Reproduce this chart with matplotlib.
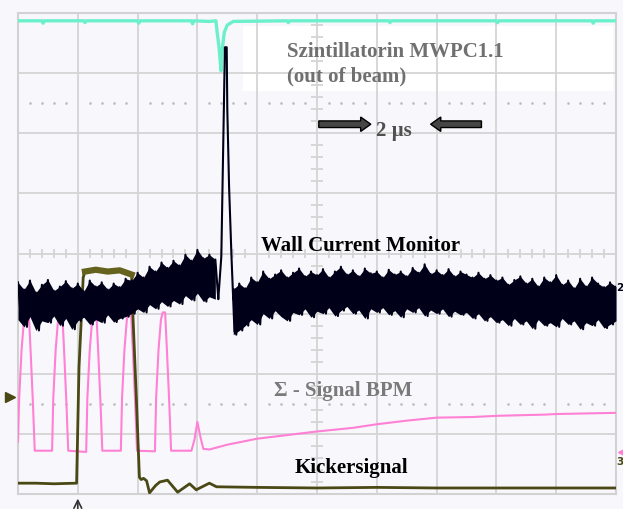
import numpy as np
import matplotlib.pyplot as plt
from matplotlib.patches import FancyArrow, Rectangle

# scope screen: 10 x 8 divisions, values in divisions
# channel 1: scintillator (cyan)
scint_x = [0.0, 0.4, 0.42, 0.44, 1.1, 1.12, 1.14, 2.0, 2.02, 2.04, 2.9, 2.92, 2.94, 3.2,
           3.31, 3.33, 3.36, 3.395, 3.41, 3.45, 3.50, 3.60, 4.5, 4.52, 4.54, 6.2, 6.22,
           6.24, 8.0, 8.02, 8.04, 9.6, 9.62, 9.64, 10.0]
scint_y = [3.87, 3.87, 3.83, 3.87, 3.87, 3.84, 3.87, 3.87, 3.83, 3.87, 3.87, 3.82, 3.87, 3.86,
           3.87, 3.68, 3.45, 3.04, 3.35, 3.68, 3.80, 3.86, 3.87, 3.84, 3.87, 3.87, 3.84,
           3.87, 3.87, 3.84, 3.87, 3.87, 3.83, 3.87, 3.87]

# channel 2: wall current monitor (noisy band: upper / lower excursions)
wcm_a_hi = [-0.48, -0.60, -0.45, -0.65, -0.52, -0.44, -0.62, -0.55, -0.46, -0.58,
            -0.50, -0.63, -0.45, -0.55, -0.48, -0.60, -0.50, -0.56, -0.42, -0.45,
            -0.32, -0.40, -0.22, -0.30, -0.15, -0.24, -0.12, -0.20, -0.02, -0.12,
            0.06, -0.08, -0.02, -0.10]
wcm_a_lo = [-1.10, -1.22, -1.05, -1.28, -1.12, -1.15, -1.04, -1.20, -1.08, -1.26,
            -1.12, -1.06, -1.18, -1.10, -1.15, -1.02, -1.14, -1.08, -1.05, -1.00,
            -0.92, -0.98, -0.85, -0.92, -0.80, -0.88, -0.78, -0.84, -0.70, -0.78,
            -0.66, -0.80, -0.72, -0.76]
spike_x = [3.35, 3.40, 3.46, 3.49, 3.50, 3.53, 3.57, 3.62, 3.65]
spike_y = [-0.75, -0.05, 3.43, 3.43, 2.40, 1.10, -0.05, -1.30, -0.60]
wcm_c_hi = [-0.60, -0.50, -0.58, -0.40, -0.48, -0.30, -0.42, -0.35, -0.28, -0.40,
            -0.32, -0.25, -0.38, -0.30, -0.36, -0.26, -0.40, -0.30, -0.22, -0.35,
            -0.28, -0.38, -0.25, -0.33, -0.30, -0.40, -0.27, -0.35, -0.30, -0.38,
            -0.24, -0.32, -0.18, -0.34, -0.28, -0.36, -0.26, -0.38, -0.30, -0.35,
            -0.40, -0.32, -0.42, -0.36, -0.45, -0.40, -0.52, -0.44, -0.38, -0.50,
            -0.42, -0.55, -0.40, -0.48, -0.36, -0.52, -0.45, -0.58, -0.42, -0.55,
            -0.40, -0.50, -0.56, -0.48, -0.55]
wcm_c_lo = [-1.35, -1.28, -1.20, -1.10, -1.18, -1.00, -1.08, -0.95, -1.05, -1.12,
            -0.98, -1.02, -0.92, -1.06, -0.96, -1.00, -0.90, -1.04, -0.95, -0.88,
            -1.00, -0.94, -1.08, -0.92, -0.98, -0.90, -1.02, -0.95, -1.06, -0.92,
            -0.98, -0.90, -1.04, -0.94, -1.00, -0.92, -1.05, -0.96, -1.02, -0.98,
            -1.08, -1.00, -1.12, -1.05, -1.15, -1.10, -1.20, -1.08, -1.18, -1.12,
            -1.25, -1.10, -1.20, -1.15, -1.22, -1.08, -1.18, -1.12, -1.26, -1.15,
            -1.20, -1.10, -1.24, -1.18, -1.12]

# channel 3: sigma signal BPM (pink)
bpm_x = [0.0, 0.02, 0.06, 0.10, 0.13, 0.18, 0.21, 0.25, 0.28, 0.57,
         0.59, 0.63, 0.67, 0.70, 0.74, 0.77, 0.81, 0.84, 1.14,
         1.16, 1.20, 1.24, 1.27, 1.31, 1.34, 1.38, 1.41, 1.72,
         1.74, 1.78, 1.82, 1.85, 1.89, 1.92, 1.96, 1.99, 2.29,
         2.31, 2.35, 2.39, 2.42, 2.46, 2.49, 2.53, 2.56, 2.90,
         2.95, 3.00, 3.05, 3.10, 3.20, 3.50, 4.0, 4.5, 5.0, 5.6, 6.0,
         6.5, 7.0, 7.6, 8.0, 8.8, 9.0, 10.0]
bpm_y = [-3.13, -2.40, -1.60, -1.10, -0.98, -0.98, -1.60, -2.50, -3.28, -3.28,
         -2.40, -1.60, -1.10, -0.98, -0.98, -1.60, -2.50, -3.28, -3.30,
         -2.40, -1.60, -1.10, -0.98, -0.98, -1.60, -2.50, -3.28, -3.28,
         -2.40, -1.60, -1.10, -0.98, -0.98, -1.60, -2.50, -3.28, -3.29,
         -2.40, -1.60, -1.10, -0.98, -0.98, -1.60, -2.50, -3.28, -3.28,
         -3.10, -2.80, -3.05, -3.25, -3.26, -3.18, -3.08, -3.02, -2.96, -2.90, -2.84,
         -2.78, -2.73, -2.72, -2.70, -2.68, -2.67, -2.65]

# channel 4: kicker signal (olive)
kick_x = [0.0, 0.3, 0.6, 0.98, 1.02, 1.06, 1.09, 1.12, 1.3, 1.5, 1.7, 1.9,
          1.92, 1.98, 2.03, 2.06, 2.10, 2.15, 2.20, 2.30, 2.37, 2.50, 2.67,
          2.87, 2.98, 3.20, 3.32, 4.0, 5.0, 6.0, 7.0, 8.0, 9.0, 10.0]
kick_y = [-3.82, -3.82, -3.83, -3.82, -1.90, -1.05, -0.40, -0.30, -0.27, -0.30, -0.28, -0.35,
          -0.98, -2.43, -3.72, -3.76, -3.74, -3.78, -3.98, -3.86, -3.80, -3.77, -3.97,
          -3.83, -3.93, -3.82, -3.88, -3.89, -3.90, -3.89, -3.90, -3.90, -3.90, -3.90]

bg = '#f8f8fc'
fig = plt.figure(figsize=(6.23, 5.10), dpi=100, facecolor=bg)
ax = fig.add_axes([18 / 623, 15 / 510, 598 / 623, 481 / 510])
ax.set_facecolor(bg)
ax.set_xlim(0, 10)
ax.set_ylim(-4, 4)
ax.set_xticks([])
ax.set_yticks([])
for s in ax.spines.values():
    s.set_color('#d2d2d2')
    s.set_linewidth(1.5)

# whiter area behind the labels
ax.add_patch(Rectangle((3.77, 2.7), 6.18, 1.08, fc='white', ec='none', zorder=0))

# graticule
gc = '#d4d4d4'
for gx in range(1, 10):
    ax.axvline(gx, color=gc, lw=1.3, zorder=1)
for gy in range(-3, 4):
    ax.axhline(gy, color=gc, lw=1.3, zorder=1)
minor = np.array([v for v in np.arange(0, 10.01, 0.2) if abs(v - round(v)) > 0.01])
ax.vlines(minor, -0.08, 0.08, color=gc, lw=1.3, zorder=1)
minor_y = np.array([v for v in np.arange(-4, 4.01, 0.2) if abs(v - round(v)) > 0.01])
ax.hlines(minor_y, 4.9, 5.1, color=gc, lw=1.3, zorder=1)
for dy in (2.5, -2.5):
    ax.plot(minor, np.full(len(minor), dy), ls='none', marker='.', ms=1.8,
            color='#bdbdbd', zorder=1)

# traces
ax.plot(scint_x, scint_y, color='#6cf0cc', lw=2.4, zorder=3)
ax.plot(bpm_x, bpm_y, color='#ff80d4', lw=1.5, zorder=3)
ax.plot(kick_x, kick_y, color='#4a4814', lw=2.0, zorder=4)
ax.plot(kick_x[7:12], kick_y[7:12], color='#64621c', lw=4.5, zorder=4)

wcm_col = '#000018'
xa = [0.1 * i for i in range(len(wcm_a_hi))]
xc = [3.6 + 0.1 * i for i in range(len(wcm_c_hi))]
ax.fill_between(xa, wcm_a_hi, wcm_a_lo, color=wcm_col, lw=0, zorder=5)
ax.fill_between(xc, wcm_c_hi, wcm_c_lo, color=wcm_col, lw=0, zorder=5)
wx, wy = [], []
for x, h, l in zip(xa, wcm_a_hi, wcm_a_lo):
    wx += [x, x + 0.05]
    wy += [h, l]
wx += spike_x
wy += spike_y
for x, h, l in zip(xc, wcm_c_hi, wcm_c_lo):
    wx += [x, x + 0.05]
    wy += [h, l]
ax.plot(wx, wy, color=wcm_col, lw=1.5, zorder=5)

# labels
font = dict(family='Liberation Serif', fontweight='bold', fontsize=15, zorder=6)
ax.text(4.5, 3.283, 'Szintillatorin MWPC1.1', color='#707070', va='baseline', **font)
ax.text(4.5, 2.88, '(out of beam)', color='#707070', va='baseline', **font)
ax.text(5.98, 1.97, '2 µs', color='#505050', va='baseline', **font)
ax.text(4.06, 0.05, 'Wall Current Monitor', color='black', va='baseline', **font)
ax.text(4.28, -2.35, 'Σ - Signal BPM', color='#7a7a7a', va='baseline', **font)
ax.text(4.62, -3.63, 'Kickersignal', color='black', va='baseline', **font)

for x0, dx in ((5.03, 0.87), (7.75, -0.85)):
    ax.add_patch(FancyArrow(x0, 2.15, dx, 0, width=0.11, head_width=0.24, head_length=0.17,
                            length_includes_head=True, fc='#454545', ec='black', lw=1,
                            zorder=6))

# scope markers
ax.plot([-0.14], [-2.38], marker='>', ms=7, color='#4a4814', clip_on=False)
ax.annotate('', xy=(1.0, -4.03), xytext=(1.0, -4.3), annotation_clip=False,
            arrowprops=dict(arrowstyle='->', color='#333333', lw=1.2, mutation_scale=14))
ax.text(10.01, -0.55, '2', color='#000018', fontsize=7.5, fontweight='bold',
        va='center', clip_on=False)
ax.text(10.01, -3.45, '3', color='#4a4814', fontsize=7.5, fontweight='bold',
        va='center', clip_on=False)
ax.plot([10.08], [-3.3], marker='<', ms=5, color='#ff80d4', clip_on=False)

fig.savefig('out.png', dpi=100, facecolor=bg)
